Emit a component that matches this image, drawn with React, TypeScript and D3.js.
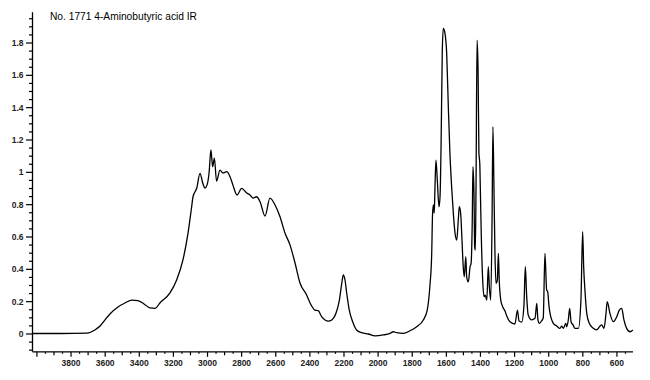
import React from "react";
import * as d3 from "d3";

const title = "No. 1771 4-Aminobutyric acid IR";

const wavenumbers = [
  4023, 3865, 3706, 3660, 3630, 3601, 3572, 3525, 3484, 3443, 3408, 3372, 3337, 3308, 3279,
  3220, 3181, 3144, 3114, 3093, 3085, 3063, 3044, 3028, 3015, 3003, 2991, 2980, 2970, 2960,
  2947, 2927, 2909, 2888, 2868, 2851, 2827, 2800, 2770, 2751, 2733, 2712, 2692, 2663, 2634,
  2604, 2575, 2546, 2516, 2487, 2458, 2419, 2399, 2370, 2351, 2331, 2311, 2292, 2272, 2247,
  2227, 2213, 2204, 2194, 2184, 2169, 2149, 2126, 2096, 2057, 2018, 1970, 1930, 1911, 1891,
  1852, 1813, 1774, 1735, 1712, 1696, 1686, 1681, 1676, 1671, 1667, 1661, 1653, 1643, 1637,
  1631, 1624, 1618, 1608, 1598, 1589, 1579, 1569, 1559, 1549, 1539, 1530, 1524, 1516, 1510,
  1501, 1495, 1486, 1481, 1471, 1461, 1455, 1448, 1444, 1438, 1434, 1430, 1426, 1420, 1414,
  1409, 1404, 1401, 1395, 1387, 1379, 1372, 1363, 1354, 1348, 1340, 1332, 1327, 1321, 1315,
  1309, 1301, 1295, 1290, 1281, 1270, 1256, 1246, 1227, 1198, 1183, 1174, 1158, 1145, 1137,
  1129, 1120, 1100, 1080, 1070, 1063, 1055, 1041, 1032, 1022, 1012, 1006, 998, 988, 973,
  953, 934, 924, 914, 900, 894, 885, 877, 869, 857, 846, 826, 811, 801, 795,
  787, 777, 762, 739, 719, 699, 689, 676, 664, 657, 641, 621, 601, 586, 572,
  559, 543, 523, 507,
];

const absorbance = [
  0.003, 0.003, 0.006, 0.025, 0.049, 0.087, 0.124, 0.167, 0.192, 0.21, 0.207, 0.186, 0.161, 0.158, 0.192,
  0.254, 0.334, 0.458, 0.625, 0.787, 0.849, 0.903, 0.994, 0.934, 0.903, 0.921, 0.996, 1.138, 1.035, 1.088,
  0.946, 1.014, 0.996, 1.004, 0.973, 0.921, 0.86, 0.901, 0.872, 0.86, 0.841, 0.849, 0.818, 0.73, 0.841,
  0.798, 0.725, 0.625, 0.55, 0.439, 0.315, 0.241, 0.192, 0.148, 0.144, 0.107, 0.087, 0.08, 0.087, 0.128,
  0.21, 0.314, 0.365, 0.334, 0.252, 0.148, 0.076, 0.025, 0.008, 0.0, -0.012, -0.006, 0.004, 0.014, 0.008,
  0.004, 0.02, 0.045, 0.087, 0.148, 0.303, 0.489, 0.736, 0.798, 0.748, 0.891, 1.076, 0.952, 0.787, 0.849,
  1.158, 1.736, 1.891, 1.86, 1.736, 1.427, 1.118, 0.911, 0.746, 0.623, 0.581, 0.705, 0.787, 0.746, 0.623,
  0.416, 0.354, 0.478, 0.354, 0.323, 0.416, 0.437, 0.705, 1.035, 0.872, 0.54, 0.519, 0.911, 1.818, 1.633,
  1.118, 1.056, 0.911, 0.602, 0.334, 0.231, 0.241, 0.21, 0.416, 0.293, 0.21, 0.705, 1.282, 0.911, 0.499,
  0.314, 0.334, 0.499, 0.334, 0.21, 0.169, 0.142, 0.111, 0.076, 0.062, 0.148, 0.08, 0.074, 0.179, 0.416,
  0.231, 0.117, 0.087, 0.097, 0.19, 0.087, 0.066, 0.082, 0.099, 0.499, 0.272, 0.262, 0.169, 0.107, 0.066,
  0.049, 0.035, 0.049, 0.035, 0.066, 0.045, 0.087, 0.159, 0.076, 0.056, 0.035, 0.035, 0.21, 0.633, 0.416,
  0.262, 0.128, 0.066, 0.035, 0.025, 0.049, 0.056, 0.035, 0.128, 0.2, 0.128, 0.076, 0.107, 0.148, 0.159,
  0.087, 0.035, 0.014, 0.025,
];

const xTickLabels = [3800, 3600, 3400, 3200, 3000, 2800, 2600, 2400, 2200, 2000, 1800, 1600, 1400, 1200, 1000, 800, 600];
const yTickLabels = [0, 0.2, 0.4, 0.6, 0.8, 1, 1.2, 1.4, 1.6, 1.8];

export default function App() {
  const W = 650;
  const H = 380;
  const x = d3.scaleLinear().domain([4023, 507]).range([33, 632.8]);
  const y = d3.scaleLinear().domain([0, 1.8]).range([334, 43]);
  const axisX = 32.5;
  const axisY = y(-0.11);
  const axisTop = y(1.99);

  const line = d3
    .line<number>()
    .x((_, i) => x(wavenumbers[i]))
    .y((d) => y(d))
    .curve(d3.curveMonotoneX);

  const xMinor = d3.range(4000, 549, -50);
  const yMinor = d3.range(-10, 200, 5).map((v) => v / 100);

  const font = "'Liberation Sans', Arial, sans-serif";

  return (
    <svg
      width={W}
      height={H}
      style={{ position: "absolute", left: 0, top: 0, background: "#fff" }}
    >
      <rect x={0} y={0} width={W} height={H} fill="#fff" />
      <text
        x={50}
        y={19.5}
        fontFamily={font}
        fontSize={11.5}
        textLength={147}
        lengthAdjust="spacingAndGlyphs"
        fill="#000"
      >
        {title}
      </text>

      {/* y axis */}
      <line x1={axisX} x2={axisX} y1={axisTop} y2={axisY} stroke="#000" strokeWidth={1.3} />
      {yMinor.map((v) => {
        const major = yTickLabels.some((t) => Math.abs(t - v) < 1e-6);
        return (
          <line
            key={"ym" + v}
            x1={axisX - (major ? 6.5 : 3.5)}
            x2={axisX}
            y1={y(v)}
            y2={y(v)}
            stroke="#000"
            strokeWidth={1.2}
          />
        );
      })}
      {yTickLabels.map((v) => (
        <text
          key={"yl" + v}
          x={23.5}
          y={y(v) + 3}
          textAnchor="end"
          fontFamily={font}
          fontSize={8.5}
          fontWeight="bold"
          fill="#222"
        >
          {String(v)}
        </text>
      ))}

      {/* x axis */}
      <line x1={axisX} x2={633} y1={axisY} y2={axisY} stroke="#000" strokeWidth={1.3} />
      {xMinor.map((v) => {
        const len = v % 200 === 0 ? 5 : v % 100 === 0 ? 3.5 : 2;
        return (
          <line
            key={"xm" + v}
            x1={x(v)}
            x2={x(v)}
            y1={axisY}
            y2={axisY + len}
            stroke="#000"
            strokeWidth={1.2}
          />
        );
      })}
      {xTickLabels.map((v) => (
        <text
          key={"xl" + v}
          x={x(v)}
          y={axisY + 14}
          textAnchor="middle"
          fontFamily={font}
          fontSize={8.5}
          fontWeight="bold"
          fill="#222"
        >
          {String(v)}
        </text>
      ))}

      <path
        d={line(absorbance) || ""}
        fill="none"
        stroke="#000"
        strokeWidth={1.3}
        strokeLinejoin="round"
      />
    </svg>
  );
}
